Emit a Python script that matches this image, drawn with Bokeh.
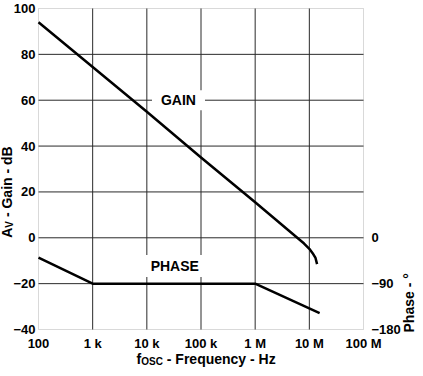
import math
from bokeh.plotting import figure
from bokeh.models import Range1d, LinearAxis, FixedTicker, Label, BoxAnnotation
from bokeh.embed import file_html
from bokeh.resources import INLINE

# ---- data ----
gain_freq = [100, 1e3, 1e4, 1e5, 1e6, 8e6, 1e7, 1.15e7, 1.3e7, 1.39e7]
gain_db = [94, 74.5, 55, 35, 15.5, -2.5, -4.8, -6.7, -8.8, -11.5]

phase_freq = [100, 1e3, 1e6, 1.55e7]
phase_deg = [-39, -90, -90, -148]

x_ticks = [100, 1000, 10000, 100000, 1000000, 10000000, 100000000]
x_labels = ["100", "1 k", "10 k", "100 k", "1 M", "10 M", "100 M"]
y_ticks = [-40, -20, 0, 20, 40, 60, 80, 100]
phase_ticks = [-180, -90, 0]

X0, X1, Y0, Y1, P0, P1 = 100, 1e8, -40, 100, -180, 450   # plotted data ranges

FONT = "Liberation Sans"

# ---- layout (pixels) ----
W, H = 415, 368
FL, FR, FT, FB = 38, 363, 8, 329      # plot-area edges in the canvas

dec_px = (FR - FL) / math.log10(X1 / X0)
db_px = (FB - FT) / (Y1 - Y0)
ph_px = (FB - FT) / (P1 - P0)

# the frame covers the whole canvas; ranges are widened so that the data area
# lands on the plot-area rectangle above
xr = Range1d(10 ** (math.log10(X0) - FL / dec_px), 10 ** (math.log10(X1) + (W - FR) / dec_px))
yr = Range1d(Y0 - (H - FB) / db_px, Y1 + FT / db_px)
pr = Range1d(P0 - (H - FB) / ph_px, P1 + FT / ph_px)

p = figure(width=W, height=H, x_axis_type="log", x_range=xr, y_range=yr,
           output_backend="svg", toolbar_location=None,
           min_border_left=0, min_border_right=0, min_border_top=0, min_border_bottom=0)
p.extra_y_ranges = {"phase": pr}
p.background_fill_color = "white"
p.border_fill_color = "white"
p.outline_line_color = None
p.grid.visible = False

# grid lines (interior ticks) limited to the plot area
gx = x_ticks[1:-1]
gy = y_ticks[1:-1]
p.segment(x0=gx, x1=gx, y0=[Y0] * len(gx), y1=[Y1] * len(gx),
          line_color="#2a2a2a", line_width=1)
p.segment(x0=[X0] * len(gy), x1=[X1] * len(gy), y0=gy, y1=gy,
          line_color="#2a2a2a", line_width=1)
p.add_layout(BoxAnnotation(left=X0, right=X1, bottom=Y0, top=Y1, fill_color=None,
                           line_color="#808080", line_width=1, level="underlay"))

# axes pinned to the plot-area edges
xa = p.xaxis[0]
ya = p.yaxis[0]
xa.ticker = FixedTicker(ticks=x_ticks, minor_ticks=[])
xa.major_label_overrides = {t: l for t, l in zip(x_ticks, x_labels)}
xa.fixed_location = Y0
ya.ticker = FixedTicker(ticks=y_ticks, minor_ticks=[])
ya.fixed_location = X0
ax_r = LinearAxis(y_range_name="phase", fixed_location=X1,
                  ticker=FixedTicker(ticks=phase_ticks, minor_ticks=[]))
p.add_layout(ax_r, "right")

for ax in (xa, ya, ax_r):
    ax.axis_line_color = None
    ax.major_tick_line_color = None
    ax.minor_tick_line_color = None
    ax.major_tick_out = 0
    ax.major_tick_in = 0
    ax.major_label_text_font = FONT
    ax.major_label_text_font_style = "bold"
    ax.major_label_text_font_size = "13px"
    ax.major_label_text_color = "black"
xa.major_label_standoff = 6
ya.major_label_standoff = 3
ax_r.major_label_standoff = 8

p.line(gain_freq, gain_db, line_color="black", line_width=2.5, line_join="round")
p.line(phase_freq, phase_deg, y_range_name="phase", line_color="black",
       line_width=2.5, line_join="round")

common = dict(text_font=FONT, text_font_style="bold", text_color="black")
p.add_layout(Label(x=3.84e4, y=60, text="GAIN", text_align="center",
                   text_baseline="middle", text_font_size="14px",
                   background_fill_color="white", padding=(9, 2), **common))
p.add_layout(Label(x=3.28e4, y=-12.3, text="PHASE", text_align="center",
                   text_baseline="middle", text_font_size="14px",
                   background_fill_color="white", padding=(5, 3), **common))


def txt(x, y, text, size, angle=0.0):
    p.add_layout(Label(x=x, y=y, x_units="canvas", y_units="canvas", text=text,
                       text_font_size=size, angle=angle, text_align="left",
                       text_baseline="alphabetic", **common))


# x title: f_OSC - Frequency - Hz
tx = 136
txt(tx, 358, "f", "14px")
txt(tx + 4.7, 361, "OSC", "10px")
txt(tx + 4.7 + 21.7 + 3.9, 358, "- Frequency - Hz", "14px")

# y title: A_V - Gain - dB (reads bottom to top, starts at the 0 dB line)
rot = math.pi / 2
zero_py = FT + (Y1 - 0) * db_px
txt(6, zero_py, "A", "14px", rot)
txt(8.5, zero_py - 10.1, "V", "10px", rot)
txt(6, zero_py - 10.1 - 6.7 - 3.9, "- Gain - dB", "14px", rot)

# right title: Phase - °
txt(408, 332, "Phase - °", "14px", rot)

open("out.html", "w").write(file_html(p, INLINE))
